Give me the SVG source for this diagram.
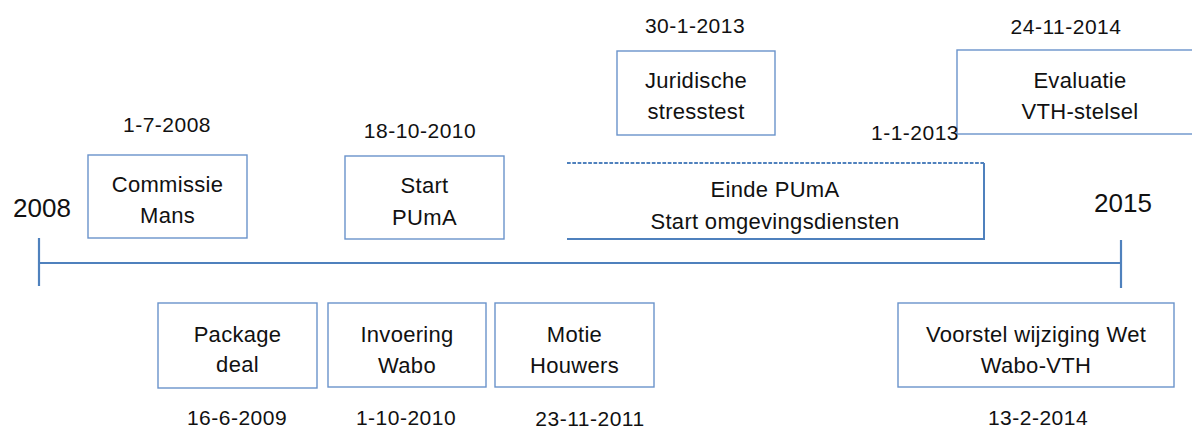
<svg xmlns="http://www.w3.org/2000/svg" width="1192" height="430" viewBox="0 0 1192 430">
<style>
  .box { fill: #ffffff; stroke: #6A93CB; stroke-width: 1.4; }
  .t { font-family: "Liberation Sans", Arial, sans-serif; font-size: 22px; fill: #111111; text-anchor: middle; letter-spacing: 0.3px; }
  .d { font-family: "Liberation Sans", Arial, sans-serif; font-size: 21px; fill: #111111; text-anchor: middle; letter-spacing: 0.5px; }
  .yr { font-family: "Liberation Sans", Arial, sans-serif; font-size: 26px; fill: #111111; text-anchor: middle; }
  .axis { stroke: #4F81BD; stroke-width: 2.2; fill: none; }
</style>
<rect width="1192" height="430" fill="#ffffff"/>

<g id="connectors">
  <line class="axis" x1="39" y1="263" x2="1121" y2="263"/>
  <line class="axis" x1="39" y1="238" x2="39" y2="286"/>
  <line class="axis" x1="1121" y1="240" x2="1121" y2="288"/>
</g>

<g id="year-2008"><text class="yr" x="42" y="217">2008</text></g>
<g id="year-2015"><text class="yr" x="1123" y="212">2015</text></g>

<g id="commissie-mans">
  <text class="d" x="167" y="132">1-7-2008</text>
  <rect class="box" x="88" y="155" width="159" height="83"/>
  <text class="t" x="167.5" y="192">Commissie</text>
  <text class="t" x="167.5" y="223">Mans</text>
</g>

<g id="start-puma">
  <text class="d" x="420" y="138">18-10-2010</text>
  <rect class="box" x="345" y="156" width="159" height="83"/>
  <text class="t" x="424.5" y="193">Start</text>
  <text class="t" x="424.5" y="225">PUmA</text>
</g>

<g id="juridische-stresstest">
  <text class="d" x="695" y="33">30-1-2013</text>
  <rect class="box" x="617" y="51" width="158" height="84"/>
  <text class="t" x="696" y="88">Juridische</text>
  <text class="t" x="696" y="119">stresstest</text>
</g>

<g id="evaluatie-vth">
  <text class="d" x="1066" y="34">24-11-2014</text>
  <rect class="box" x="957" y="50" width="246" height="84"/>
  <text class="t" x="1080" y="88">Evaluatie</text>
  <text class="t" x="1080" y="119">VTH-stelsel</text>
</g>

<g id="einde-puma">
  <text class="d" x="915" y="140">1-1-2013</text>
  <line x1="567" y1="163" x2="984" y2="163" stroke="#4F81BD" stroke-width="2" stroke-dasharray="3.7 1.6"/>
  <polyline points="984,163 984,239 567,239" fill="none" stroke="#4F81BD" stroke-width="2"/>
  <text class="t" x="775" y="197">Einde PUmA</text>
  <text class="t" x="775" y="229">Start omgevingsdiensten</text>
</g>

<g id="package-deal">
  <rect class="box" x="158" y="303" width="159" height="85"/>
  <text class="t" x="237.5" y="342">Package</text>
  <text class="t" x="237.5" y="372">deal</text>
  <text class="d" x="237" y="425">16-6-2009</text>
</g>

<g id="invoering-wabo">
  <rect class="box" x="328" y="303" width="158" height="84"/>
  <text class="t" x="407" y="342">Invoering</text>
  <text class="t" x="407" y="373">Wabo</text>
  <text class="d" x="406" y="425">1-10-2010</text>
</g>

<g id="motie-houwers">
  <rect class="box" x="495" y="303" width="159" height="84"/>
  <text class="t" x="574.5" y="342">Motie</text>
  <text class="t" x="574.5" y="373">Houwers</text>
  <text class="d" x="590" y="426">23-11-2011</text>
</g>

<g id="voorstel-wijziging">
  <rect class="box" x="898" y="303" width="276" height="84"/>
  <text class="t" x="1036" y="342">Voorstel wijziging Wet</text>
  <text class="t" x="1036" y="373">Wabo-VTH</text>
  <text class="d" x="1038" y="425">13-2-2014</text>
</g>
</svg>
